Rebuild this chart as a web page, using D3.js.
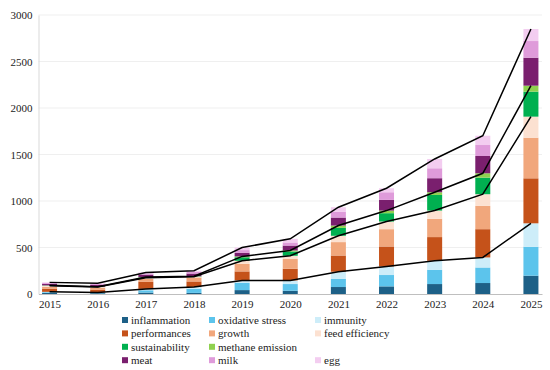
<!DOCTYPE html>
<html>
<head>
<meta charset="utf-8">
<script src="https://cdn.jsdelivr.net/npm/d3@7"></script>
<style>
  body { margin: 0; background: #fff; }
  text { font-family: "Liberation Serif", "Times New Roman", serif; fill: #222; }
</style>
</head>
<body>
<svg id="chart" width="550" height="370"></svg>
<script>
// years and categories
var years = ["2015","2016","2017","2018","2019","2020","2021","2022","2023","2024","2025"];
var categories = ["inflammation","oxidative stress","immunity","performances","growth","feed efficiency",
                  "sustainability","methane emission","meat","milk","egg"];
var yTicks = [0, 500, 1000, 1500, 2000, 2500, 3000];

// values per category, one per year
var inflammation    = [12,  8, 15, 12, 42, 35,  75,  82, 107, 118, 197];
var oxidativeStress = [ 8,  6, 25, 45, 78, 72,  89, 122, 154, 167, 311];
var immunity        = [ 3,  3, 15, 18, 26, 39,  75,  92,  96, 108, 252];
var performances    = [35, 30, 75, 60, 97,125, 175, 215, 255, 304, 484];
var growth          = [20, 20, 35, 43, 80,105, 144, 186, 196, 250, 437];
var feedEfficiency  = [10,  8, 10,  8, 34, 35,  68,  82,  89, 126, 226];
var sustainability  = [ 3,  2,  5,  4, 38, 46,  85,  90, 168, 178, 269];
var methaneEmission = [ 2,  2,  3,  2,  9, 11,  25,  28,  29,  47,  64];
var meat            = [15, 18, 25, 28, 40, 53,  86, 115, 151, 186, 301];
var milk            = [10, 10, 14, 18, 28, 33,  61,  82, 107, 118, 179];
var egg             = [ 7,  8, 10, 12, 28, 39,  50,  43, 100, 100, 129];

var series = [inflammation, oxidativeStress, immunity, performances, growth, feedEfficiency,
              sustainability, methaneEmission, meat, milk, egg];
var colors = ["#1d6087","#5cc4ec","#cdedf9","#c5521a","#f1a77c","#fce1d1",
              "#00b050","#8fd14f","#7a1f6e","#df9bda","#f3cdf0"];
// the black lines run along the top of these groups (last index of group)
var lineGroups = [2, 5, 7, 10];

var svg = d3.select("#chart");
var margin = {top:15, left:38.5, right:8, bottom:76};
var width = 550, height = 370;

var x = d3.scalePoint().domain(years).range([margin.left, width - margin.right]).padding(0.23);
var y = d3.scaleLinear().domain([0, 3000]).range([height - margin.bottom, margin.top]);
var barW = 15;

var table = years.map(function(yr, i){
    var row = {year: yr};
    categories.forEach(function(c, k){ row[c] = series[k][i]; });
    return row;
});
var stacked = d3.stack().keys(categories)(table);

// grid
svg.append("g")
    .selectAll("line")
    .data(yTicks.slice(1))
    .enter().append("line")
    .attr("x1", margin.left).attr("x2", width - margin.right)
    .attr("y1", function(d){ return y(d); }).attr("y2", function(d){ return y(d); })
    .attr("stroke", "#efefef").attr("stroke-width", 1);

// y axis
var yAxis = svg.append("g")
    .attr("transform", "translate(" + margin.left + ",0)")
    .call(d3.axisLeft(y).tickValues(yTicks).tickFormat(d3.format("d")).tickSize(0).tickPadding(6));
yAxis.select(".domain").attr("stroke", "#d9d9d9");
yAxis.selectAll("text").style("font-size", "11px").attr("fill", "#222");

// bars
var layers = svg.append("g").selectAll("g")
    .data(stacked)
    .enter().append("g")
    .attr("fill", function(d, i){ return colors[i]; });

layers.selectAll("rect")
    .data(function(d){ return d; })
    .enter().append("rect")
    .attr("x", function(d){ return x(d.data.year) - barW/2; })
    .attr("width", barW)
    .attr("y", function(d){ return y(d[1]); })
    .attr("height", function(d){ return y(d[0]) - y(d[1]); });

// x axis
var xAxis = svg.append("g")
    .attr("transform", "translate(0," + y(0) + ")")
    .call(d3.axisBottom(x).tickSize(0).tickPadding(6));
xAxis.select(".domain").attr("stroke", "#bfbfbf");
xAxis.selectAll("text").style("font-size", "11px").attr("fill", "#222");

// cumulative lines
var line = d3.line()
    .x(function(d){ return x(d.data.year); })
    .y(function(d){ return y(d[1]); });

svg.append("g").selectAll("path")
    .data(lineGroups)
    .enter().append("path")
    .attr("d", function(g){ return line(stacked[g]); })
    .attr("fill", "none")
    .attr("stroke", "#000")
    .attr("stroke-width", 1.5);

// legend
var legendRows = [[0,1,2],[3,4,5],[6,7],[8,9,10]];
var colX = [122, 209, 315];
var legend = svg.append("g");
legendRows.forEach(function(row, r){
    row.forEach(function(k, c){
        var gy = 320 + r * 13.4;
        legend.append("rect")
            .attr("x", colX[c]).attr("y", gy - 3)
            .attr("width", 6).attr("height", 6)
            .attr("fill", colors[k]);
        legend.append("text")
            .attr("x", colX[c] + 9).attr("y", gy)
            .attr("dy", "0.35em")
            .style("font-size", "11px")
            .text(categories[k]);
    });
});
</script>
</body>
</html>
